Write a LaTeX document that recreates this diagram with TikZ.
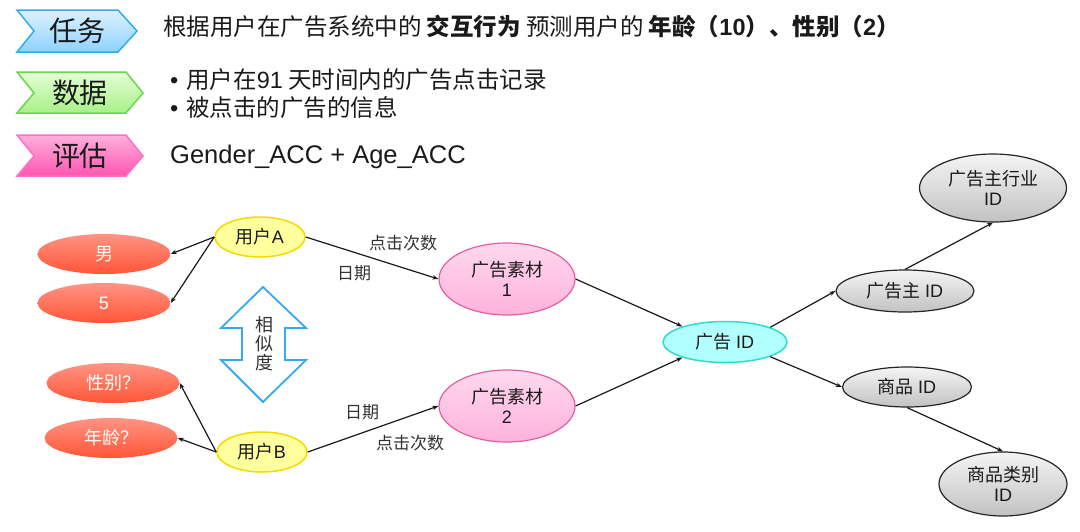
\documentclass[tikz,border=0pt]{standalone}
\usepackage{fontspec}
\setmainfont{Noto Sans CJK SC}
\newfontfamily\latfont{Liberation Sans}
\usetikzlibrary{shapes.geometric,arrows.meta}
\newcommand\lat[1]{{\latfont #1}}
\newcommand\fsz[1]{\fontsize{#1}{#1}\selectfont}
\definecolor{redtop}{HTML}{FF9484}
\definecolor{redbot}{HTML}{FF5536}
\definecolor{yelfill}{HTML}{FFFF9E}
\definecolor{yeldraw}{HTML}{F5DA00}
\definecolor{pinktop}{HTML}{FFD8EE}
\definecolor{pinkbot}{HTML}{FFB2DC}
\definecolor{pinkdraw}{HTML}{E0609F}
\definecolor{cyanfill}{HTML}{B2FFFF}
\definecolor{cyandraw}{HTML}{30DCCB}
\definecolor{greytop}{HTML}{F4F4F4}
\definecolor{greybot}{HTML}{C2C2C2}
\definecolor{bluedraw}{HTML}{35AAF0}
\definecolor{bluetop}{HTML}{DDF2FF}
\definecolor{bluebot}{HTML}{8FD2FF}
\definecolor{greendraw}{HTML}{66D94A}
\definecolor{greentop}{HTML}{E4FFD6}
\definecolor{greenbot}{HTML}{A8F088}
\definecolor{magdraw}{HTML}{FF70C0}
\definecolor{magtop}{HTML}{FFB0DC}
\definecolor{magbot}{HTML}{FF55B0}
\definecolor{txt}{HTML}{1A1A1A}
\definecolor{lbl}{HTML}{333333}
\tikzset{
  redell/.style={ellipse, minimum width=133pt, minimum height=40pt, inner sep=0pt,
    top color=redtop, bottom color=redbot, draw=none, text=white, font=\fsz{18}},
  userell/.style={ellipse, minimum width=90pt, minimum height=40pt, inner sep=0pt,
    fill=yelfill, draw=yeldraw, line width=1.5pt, text=txt, font=\fsz{18}},
  matell/.style={ellipse, minimum width=136pt, minimum height=72pt, inner sep=0pt,
    top color=pinktop, bottom color=pinkbot, draw=pinkdraw, line width=1.2pt, text=txt,
    font=\fsz{18}, align=center},
  adell/.style={ellipse, minimum width=124pt, minimum height=41pt, inner sep=0pt,
    fill=cyanfill, draw=cyandraw, line width=1.5pt, text=txt, font=\fsz{18}},
  greyell/.style={ellipse, inner sep=0pt, top color=greytop, bottom color=greybot,
    draw=black!85, line width=1.2pt, text=txt, font=\fsz{18}, align=center},
  edge/.style={draw=black!90, line width=1.2pt, -{Stealth[length=6pt,width=4.5pt]}},
  elabel/.style={text=lbl, font=\fsz{17}, inner sep=0pt},
  chevlabel/.style={text=txt, font=\fsz{28}, inner sep=0pt},
  bodytext/.style={text=txt, font=\fsz{23.5}, inner sep=0pt, anchor=west},
}
\begin{document}
\begin{tikzpicture}[x=1pt,y=-1pt]
\useasboundingbox (0,0) rectangle (1080,531);
% chevrons
\draw[draw=bluedraw, line width=1.5pt, top color=bluetop, bottom color=bluebot]
  (17,10) -- (118,10) -- (137,31) -- (118,52) -- (17,52) -- (34,31) -- cycle;
\draw[draw=greendraw, line width=1.5pt, top color=greentop, bottom color=greenbot]
  (17,72) -- (126,72) -- (143,93) -- (126,113) -- (17,113) -- (34,93) -- cycle;
\draw[draw=magdraw, line width=1.5pt, top color=magtop, bottom color=magbot]
  (17,135) -- (126,135) -- (143,156) -- (126,176) -- (17,176) -- (34,156) -- cycle;
\node[chevlabel] (t1) at (77,31) {任务};
\node[chevlabel] (t2) at (80,93) {数据};
\node[chevlabel] (t3) at (80,156) {评估};
% texts
\node[bodytext] (task) at (163,27) {根据用户在广告系统中的 \textbf{交互行为} 预测用户的 \textbf{年龄（\lat{10}）、性别（\lat{2}）}};
\node[bodytext] (d1) at (170,80) {\lat{•}\hspace{8pt}用户在\lat{91} 天时间内的广告点击记录};
\node[bodytext] (d2) at (170,108) {\lat{•}\hspace{8pt}被点击的广告的信息};
\node[bodytext, font=\latfont\fsz{25.5}] (ev) at (170,157) {Gender\_ACC + Age\_ACC};
% graph nodes
\node[redell] (male) at (104,254) {男};
\node[redell] (five) at (104,303) {\lat{5}};
\node[redell] (sex) at (113,383) {性别？};
\node[redell] (age) at (111,438) {年龄？};
\node[userell] (ua) at (260,237) {用户\lat{A}};
\node[userell] (ub) at (262,452) {用户\lat{B}};
\node[matell] (m1) at (507,279) {广告素材\\[2pt]\lat{1}};
\node[matell] (m2) at (507,406) {广告素材\\[2pt]\lat{2}};
\node[adell] (adid) at (725,342) {广告 \lat{ID}};
\node[greyell, minimum width=138pt, minimum height=42pt] (adv) at (905,291) {广告主 \lat{ID}};
\node[greyell, minimum width=129pt, minimum height=40pt] (prod) at (907,387) {商品 \lat{ID}};
\node[greyell, minimum width=147pt, minimum height=68pt] (ind) at (993,188) {广告主行业\\[2pt]\lat{ID}};
\node[greyell, minimum width=128pt, minimum height=64pt] (cat) at (1003,484) {商品类别\\[2pt]\lat{ID}};
% similarity double arrow
\draw[draw=bluedraw, line width=1.8pt, fill=white]
  (263,287) -- (306,328) -- (285,328) -- (285,360) -- (306,360) -- (263,402)
  -- (221,360) -- (242,360) -- (242,328) -- (221,328) -- cycle;
\node[text=lbl, font=\fsz{18}, align=center, inner sep=0pt] (sim) at (264,344) {相\\[1pt]似\\[1pt]度};
% edges
\draw[edge] (ua.west) -- (male.east);
\draw[edge] (ua.west) -- (five.east);
\draw[edge] (ub.west) -- (sex.east);
\draw[edge] (ub.west) -- (age.east);
\draw[edge] (ua.east) -- (m1.west);
\draw[edge] (ub.east) -- (m2.west);
\draw[edge] (m1.east) -- (adid.160);
\draw[edge] (m2.east) -- (adid.200);
\draw[edge] (adid.18) -- (adv.west);
\draw[edge] (adid.-18) -- (prod.west);
\draw[edge] (adv.north) -- (ind.south);
\draw[edge] (prod.south) -- (cat.north);
% edge labels
\node[elabel] (l1) at (403,243) {点击次数};
\node[elabel] (l2) at (354,273) {日期};
\node[elabel] (l3) at (362,412) {日期};
\node[elabel] (l4) at (410,443) {点击次数};
\end{tikzpicture}
\end{document}
